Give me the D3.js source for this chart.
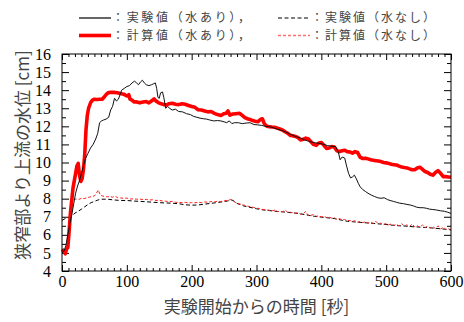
<!DOCTYPE html>
<html>
<head>
<meta charset="utf-8">
<script src="https://cdn.jsdelivr.net/npm/d3@7"></script>
<style>
  html, body { margin: 0; padding: 0; background: #fff; }
  svg { display: block; }
</style>
</head>
<body>
<svg id="chart" width="464" height="322"></svg>
<script>
// Measured water level upstream of the constriction [cm], time in seconds
const expWet = [
  [0,5.0],[3,5.1],[6,5.4],[9,6.0],[12,6.6],[15,7.1],[18,7.7],[21,8.3],[24,8.7],[27,9.0],[30,9.4],
  [33,9.8],[36,10.2],[40,10.5],[44,10.8],[48,11.0],[52,11.3],[55,11.6],[58,12.2],[61,12.3],[64,12.35],
  [68,12.4],[72,12.5],[75,12.9],[78,13.1],[81,13.55],[84,13.4],[87,13.5],[90,13.8],[92,14.0],[96,14.1],
  [100,14.2],[104,14.25],[108,14.4],[112,14.5],[115,14.4],[118,14.3],[121,14.45],[124,14.55],[127,14.4],
  [130,14.3],[134,14.25],[138,14.3],[141,14.35],[144,14.4],[146,14.1],[148,13.6],[150,13.55],[152,13.85],
  [155,13.9],[157,13.6],[160,13.0],[163,13.1],[166,13.0],[170,12.9],[175,12.95],[180,12.82],[186,12.8],
  [192,12.7],[198,12.65],[203,12.55],[208,12.5],[213,12.45],[218,12.42],[223,12.4],[228,12.35],[234,12.3],
  [240,12.32],[245,12.3],[250,12.25],[254,12.2],[258,12.3],[262,12.15],[266,12.2],[272,12.2],[278,12.15],
  [284,12.18],[290,12.2],[296,12.1],[302,12.08],[308,12.05],[314,12.0],[320,11.98],[326,11.92],[332,11.85],
  [338,11.78],[344,11.7],[350,11.6],[356,11.5],[362,11.42],[368,11.35],[374,11.25],[380,11.18],[386,11.12],
  [392,11.08],[398,11.05],[404,11.0],[410,10.93],[416,10.9],[422,10.88],[426,10.6],[429,10.15],[432,10.3],
  [436,10.25],[439,9.8],[442,9.4],[445,9.15],[448,9.2],[451,9.3],[454,9.1],[457,8.85],[460,8.65],[464,8.5],
  [468,8.4],[472,8.3],[477,8.2],[482,8.12],[487,8.05],[492,8.02],[497,8.05],[502,7.95],[506,7.9],[511,7.85],
  [516,7.8],[521,7.75],[527,7.72],[532,7.68],[537,7.65],[542,7.6],[547,7.53],[552,7.5],[557,7.5],[562,7.47],
  [567,7.42],[572,7.4],[578,7.37],[584,7.33],[590,7.3],[595,7.25],[600,7.18]
];

// Computed water level (with water)
const calcWet = [
  [0,5.2],[3,5.1],[5,4.95],[7,5.2],[9,5.3],[11,6.2],[13,7.2],[15,7.9],[17,8.6],[19,9.0],[21,9.4],[23,9.8],
  [25,9.95],[27,9.3],[29,8.95],[31,9.1],[33,9.6],[35,10.4],[37,11.8],[39,12.6],[41,13.0],[44,13.3],[47,13.45],
  [50,13.5],[54,13.48],[58,13.5],[62,13.5],[65,13.62],[68,13.75],[71,13.85],[75,13.88],[80,13.88],[85,13.86],
  [90,13.82],[95,13.78],[100,13.68],[103,13.75],[105,13.5],[108,13.45],[111,13.35],[115,13.35],[120,13.3],
  [125,13.35],[130,13.37],[134,13.3],[138,13.4],[142,13.52],[145,13.4],[149,13.3],[153,13.25],[157,13.2],
  [161,13.18],[165,13.25],[170,13.28],[175,13.22],[180,13.2],[185,13.25],[190,13.22],[195,13.15],[200,13.1],
  [205,13.05],[210,12.92],[215,12.9],[220,12.85],[225,12.8],[230,12.82],[235,12.72],[240,12.65],[245,12.6],
  [250,12.7],[253,12.72],[256,12.85],[259,12.62],[263,12.68],[268,12.7],[274,12.72],[278,12.6],[282,12.48],
  [286,12.42],[290,12.38],[294,12.32],[298,12.28],[302,12.25],[306,12.38],[309,12.42],[312,12.15],[316,12.0],
  [320,11.98],[324,11.96],[328,11.95],[332,11.9],[336,11.85],[340,11.8],[344,11.7],[348,11.62],[352,11.5],
  [356,11.48],[360,11.44],[364,11.38],[368,11.25],[372,11.28],[376,11.35],[380,11.3],[384,11.15],[388,11.0],
  [392,10.95],[396,11.08],[400,11.1],[404,10.95],[408,10.78],[412,10.8],[416,10.88],[420,10.85],[424,10.65],
  [428,10.6],[432,10.65],[436,10.68],[440,10.6],[444,10.58],[448,10.52],[452,10.6],[456,10.55],[460,10.28],
  [464,10.22],[468,10.24],[472,10.2],[476,10.15],[480,10.12],[484,10.1],[488,10.08],[492,10.05],[496,10.0],
  [500,9.98],[504,9.95],[508,9.9],[512,9.88],[516,9.86],[520,9.8],[524,9.75],[528,9.72],[532,9.7],[536,9.65],
  [540,9.6],[544,9.6],[548,9.7],[552,9.74],[556,9.62],[560,9.5],[564,9.45],[568,9.35],[572,9.3],[576,9.45],
  [580,9.55],[584,9.4],[588,9.22],[592,9.22],[596,9.2],[600,9.18]
];

// Measured water level (without water)
const expDry = [
  [0,6.8],[5,6.9],[10,6.95],[15,7.05],[20,7.2],[25,7.3],[30,7.42],[35,7.55],[40,7.68],[45,7.78],[50,7.85],
  [55,7.92],[60,7.97],[70,7.97],[80,7.93],[90,7.9],[100,7.9],[110,7.87],[120,7.85],[130,7.83],[140,7.8],
  [150,7.78],[160,7.76],[170,7.75],[180,7.72],[190,7.66],[200,7.64],[210,7.65],[220,7.7],[230,7.74],[240,7.79],
  [250,7.84],[255,7.87],[262,7.93],[266,7.85],[270,7.74],[280,7.6],[290,7.52],[300,7.44],[310,7.38],[320,7.34],
  [330,7.3],[340,7.27],[350,7.24],[360,7.2],[370,7.15],[380,7.08],[390,7.02],[400,6.98],[410,6.94],[420,6.9],
  [430,6.82],[440,6.75],[450,6.72],[460,6.69],[470,6.66],[480,6.63],[490,6.6],[500,6.57],[510,6.53],[520,6.5],
  [530,6.48],[540,6.45],[550,6.43],[560,6.41],[570,6.38],[580,6.35],[590,6.31],[600,6.28]
];

// Computed water level (without water)
const calcDry = [
  [18,7.95],[22,7.98],[26,7.96],[30,8.02],[34,8.0],[38,8.05],[42,8.08],[46,8.12],[50,8.15],[53,8.3],[56,8.48],
  [59,8.2],[62,8.15],[66,8.12],[70,8.1],[74,8.12],[78,8.08],[82,8.14],[86,8.05],[90,8.04],[95,8.02],[100,8.03],
  [105,7.98],[110,7.99],[115,7.97],[120,7.98],[125,7.95],[130,7.96],[135,7.93],[140,7.94],[145,7.9],[150,7.91],
  [155,7.87],[160,7.86],[165,7.83],[170,7.85],[175,7.8],[180,7.79],[185,7.78],[190,7.8],[195,7.76],[200,7.78],
  [205,7.77],[210,7.8],[215,7.78],[220,7.82],[225,7.8],[230,7.84],[235,7.82],[240,7.86],[245,7.84],[250,7.88],
  [255,7.9],[260,7.95],[263,7.9],[267,7.8],[271,7.72],[275,7.7],[280,7.65],[285,7.6],[290,7.56],[295,7.52],
  [300,7.48],[305,7.45],[310,7.4],[315,7.38],[320,7.36],[325,7.34],[330,7.38],[332,7.28],[336,7.3],[340,7.28],
  [345,7.35],[348,7.24],[352,7.25],[356,7.22],[360,7.2],[365,7.22],[368,7.13],[372,7.16],[376,7.3],[379,7.1],
  [384,7.08],[388,7.12],[392,7.02],[396,7.05],[400,6.99],[404,7.02],[408,6.96],[412,6.98],[416,6.92],[420,6.95],
  [424,6.85],[428,6.9],[432,6.82],[436,6.85],[440,6.78],[444,6.8],[448,6.74],[452,6.78],[456,6.7],[460,6.74],
  [464,6.68],[468,6.72],[472,6.65],[476,6.7],[480,6.63],[484,6.75],[488,6.6],[492,6.65],[496,6.58],[500,6.62],
  [504,6.55],[508,6.6],[512,6.52],[516,6.58],[520,6.5],[524,6.62],[528,6.48],[532,6.55],[536,6.46],[540,6.6],
  [544,6.44],[548,6.5],[552,6.42],[556,6.55],[560,6.4],[564,6.48],[568,6.38],[572,6.45],[576,6.35],[580,6.5],
  [584,6.32],[588,6.42],[592,6.3],[596,6.35],[600,6.25]
];

const xMajorTicks = [0, 100, 200, 300, 400, 500, 600];
const yMajorTicks = [4, 5, 6, 7, 8, 9, 10, 11, 12, 13, 14, 15, 16];

const legendLabels = [
  "：実験値（水あり），",
  "：実験値（水なし）",
  "：計算値（水あり），",
  "：計算値（水なし）"
];
const xTitle = "実験開始からの時間 [秒]";
const yTitle = "狭窄部より上流の水位 [cm]";

const svg = d3.select("#chart");
const W = 464, H = 322;
const plot = { left: 62, right: 451, top: 54, bottom: 271 };

svg.append("rect").attr("width", W).attr("height", H).attr("fill", "#fff");

const x = d3.scaleLinear().domain([0, 600]).range([plot.left, plot.right]);
const y = d3.scaleLinear().domain([4, 16]).range([plot.bottom, plot.top]);

const xMinor = d3.range(0, 601, 10).filter(v => v % 100 !== 0);
const yMinor = d3.range(4.5, 16, 1);

const serif = "'Liberation Serif', 'Times New Roman', serif";
const cjk = "'Noto Sans CJK JP', sans-serif";

// Axes with inward ticks on all four sides
function styleAxis(g) {
  g.select(".domain").remove();
  g.selectAll(".tick line").attr("stroke", "#000").attr("stroke-width", 1);
  g.selectAll("text").attr("font-family", serif).attr("font-size", 16).attr("fill", "#000");
}

svg.append("g").attr("transform", `translate(0,${plot.bottom})`)
  .call(d3.axisBottom(x).tickValues(xMajorTicks).tickSize(-6).tickPadding(5).tickFormat(d3.format("d")))
  .call(styleAxis);
svg.append("g").attr("transform", `translate(0,${plot.bottom})`)
  .call(d3.axisBottom(x).tickValues(xMinor).tickSize(-3).tickFormat(""))
  .call(styleAxis);
svg.append("g").attr("transform", `translate(0,${plot.top})`)
  .call(d3.axisTop(x).tickValues(xMajorTicks).tickSize(-6).tickFormat(""))
  .call(styleAxis);
svg.append("g").attr("transform", `translate(0,${plot.top})`)
  .call(d3.axisTop(x).tickValues(xMinor).tickSize(-3).tickFormat(""))
  .call(styleAxis);

svg.append("g").attr("transform", `translate(${plot.left},0)`)
  .call(d3.axisLeft(y).tickValues(yMajorTicks).tickSize(-7).tickPadding(11).tickFormat(d3.format("d")))
  .call(styleAxis);
svg.append("g").attr("transform", `translate(${plot.left},0)`)
  .call(d3.axisLeft(y).tickValues(yMinor).tickSize(-4).tickFormat(""))
  .call(styleAxis);
svg.append("g").attr("transform", `translate(${plot.right},0)`)
  .call(d3.axisRight(y).tickValues(yMajorTicks).tickSize(-7).tickFormat(""))
  .call(styleAxis);
svg.append("g").attr("transform", `translate(${plot.right},0)`)
  .call(d3.axisRight(y).tickValues(yMinor).tickSize(-4).tickFormat(""))
  .call(styleAxis);

// Data lines
const line = d3.line().x(d => x(d[0])).y(d => y(d[1]));
const lines = svg.append("g");

lines.append("path").datum(expDry).attr("d", line)
  .attr("fill", "none").attr("stroke", "#000").attr("stroke-width", 1)
  .attr("stroke-dasharray", "4,2.5");
lines.append("path").datum(calcDry).attr("d", line)
  .attr("fill", "none").attr("stroke", "#ff2020").attr("stroke-width", 1)
  .attr("stroke-dasharray", "3,2");
lines.append("path").datum(calcWet).attr("d", line)
  .attr("fill", "none").attr("stroke", "#ff0000").attr("stroke-width", 3.6)
  .attr("stroke-linejoin", "round");
lines.append("path").datum(expWet).attr("d", line)
  .attr("fill", "none").attr("stroke", "#111").attr("stroke-width", 1);

// Plot frame
svg.append("rect")
  .attr("x", plot.left).attr("y", plot.top)
  .attr("width", plot.right - plot.left).attr("height", plot.bottom - plot.top)
  .attr("fill", "none").attr("stroke", "#000").attr("stroke-width", 1);

// Legend (two rows, two columns); labels stretched to their column width
const legendItems = [
  { label: legendLabels[0], x0: 79, yy: 18, len: 138, stroke: "#000", width: 1.2, dash: null },
  { label: legendLabels[1], x0: 278, yy: 18, len: 124, stroke: "#000", width: 1.2, dash: "4,2.5" },
  { label: legendLabels[2], x0: 79, yy: 35.5, len: 138, stroke: "#ff0000", width: 3.6, dash: null },
  { label: legendLabels[3], x0: 278, yy: 35.5, len: 124, stroke: "#ff7070", width: 1.4, dash: "3,2" }
];
const legend = svg.append("g");
legendItems.forEach(it => {
  legend.append("line")
    .attr("x1", it.x0).attr("x2", it.x0 + 32).attr("y1", it.yy).attr("y2", it.yy)
    .attr("stroke", it.stroke).attr("stroke-width", it.width)
    .attr("stroke-dasharray", it.dash);
  legend.append("text")
    .attr("x", it.x0 + 33).attr("y", it.yy).attr("dy", "0.36em")
    .attr("font-family", cjk).attr("font-size", 12).attr("fill", "#444")
    .attr("textLength", it.len).attr("lengthAdjust", "spacing")
    .text(it.label);
});

// Axis titles
svg.append("text")
  .attr("x", (plot.left + plot.right) / 2).attr("y", 313)
  .attr("text-anchor", "middle")
  .attr("font-family", cjk).attr("font-size", 17).attr("fill", "#444")
  .text(xTitle);
svg.append("text")
  .attr("transform", "translate(23,155) rotate(-90)")
  .attr("text-anchor", "middle").attr("dy", "0.36em")
  .attr("font-family", cjk).attr("font-size", 17).attr("fill", "#444")
  .text(yTitle);
</script>
</body>
</html>
